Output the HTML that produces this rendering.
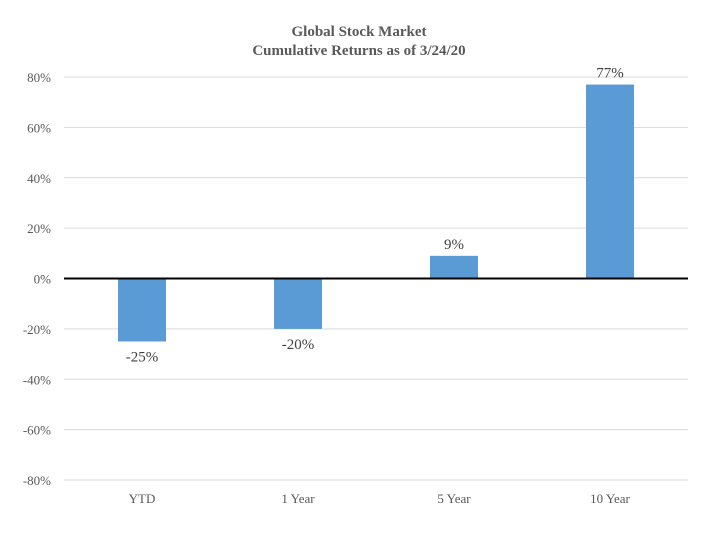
<!DOCTYPE html>
<html><head><meta charset="utf-8"><style>
body{margin:0;background:#fff;}
svg{display:block;font-family:"Liberation Serif",serif;}
</style></head><body>
<svg id="chart" width="718" height="535" xmlns="http://www.w3.org/2000/svg">
<text x="359" y="36" text-anchor="middle" font-size="15" font-weight="bold" fill="#595959">Global Stock Market</text>
<text x="359" y="55" text-anchor="middle" font-size="15" font-weight="bold" fill="#595959">Cumulative Returns as of 3/24/20</text>
<g id="grid"></g><g id="bars"></g><g id="labels"></g>
</svg>
<script>
const categories=["YTD","1 Year","5 Year","10 Year"];
const values=[-25,-20,9,77];
const valueLabels=["-25%","-20%","9%","77%"];
const ticks=[80,60,40,20,0,-20,-40,-60,-80];
const ns="http://www.w3.org/2000/svg";
const x0=64,x1=688,yTop=77,yBot=480;
const y=v=>yTop+(80-v)/160*(yBot-yTop);
const band=(x1-x0)/categories.length;
const xc=i=>x0+band*(i+0.5);
function mk(t,a,p){const e=document.createElementNS(ns,t);for(const k in a)e.setAttribute(k,a[k]);p.appendChild(e);return e;}
const g=document.getElementById('grid'),b=document.getElementById('bars'),l=document.getElementById('labels');
ticks.forEach(t=>{
 if(t!==0){const ln=mk('line',{x1:x0,x2:x1,y1:y(t),y2:y(t),stroke:'#d9d9d9','stroke-width':1},g);
 
 }
 const tx=mk('text',{x:51,y:y(t)+5,'text-anchor':'end','font-size':13,fill:'#595959'},g);
 tx.textContent=t+'%';
 
 
});
categories.forEach((c,i)=>{
 const v=values[i],top=Math.min(y(v),y(0)),h=Math.abs(y(v)-y(0));
 const r=mk('rect',{x:xc(i)-24,y:top,width:48,height:h,fill:'#5b9bd5'},b);
 
 
 const vl=mk('text',{x:xc(i),y:v>=0?y(v)-7:y(v)+20,'text-anchor':'middle','font-size':15,fill:'#404040'},l);
 vl.textContent=valueLabels[i];
 
 
 const cl=mk('text',{x:xc(i),y:503,'text-anchor':'middle','font-size':13,fill:'#595959'},l);
 cl.textContent=c;
 
 
});
const z=mk('line',{x1:x0,x2:x1,y1:y(0),y2:y(0),stroke:'#000','stroke-width':2},document.getElementById('chart'));


</script>
</body></html>
